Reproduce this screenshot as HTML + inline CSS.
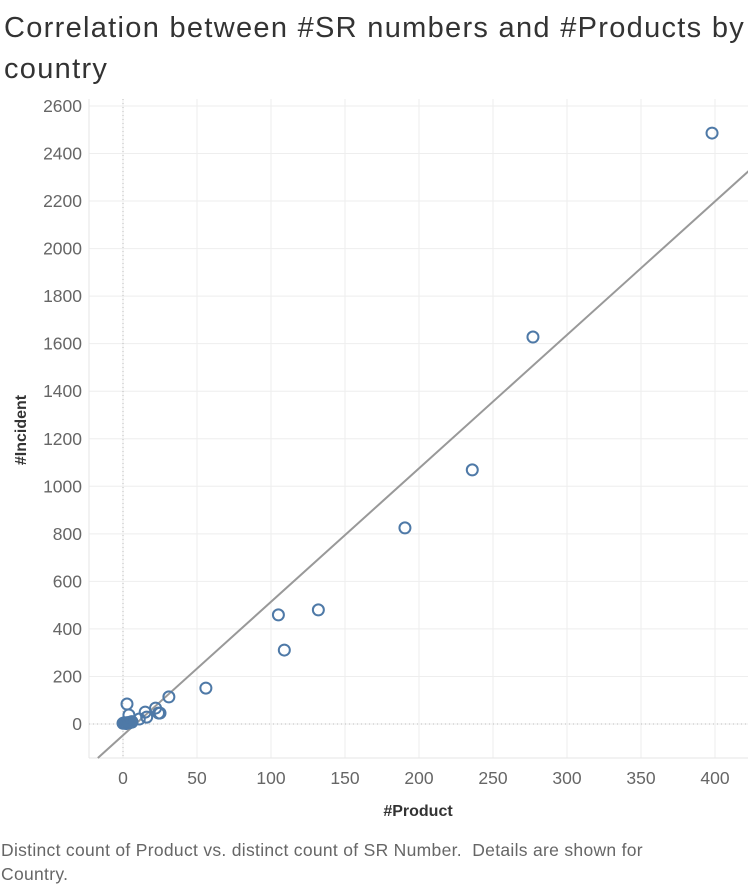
<!DOCTYPE html>
<html><head><meta charset="utf-8"><style>
body{margin:0;width:748px;height:887px;background:#fff;font-family:"Liberation Sans",sans-serif;overflow:hidden;position:relative}
#title{position:absolute;left:4px;top:8px;width:744px;font-size:29px;line-height:41px;color:#333;font-weight:300;letter-spacing:1.3px}
#foot{position:absolute;left:1px;top:838px;width:690px;font-size:17.5px;line-height:24px;color:#666;letter-spacing:0.3px}
svg{position:absolute;left:0;top:0}
</style></head><body>
<div id="title">Correlation between #SR numbers and #Products by country</div>
<svg id="chart" width="748" height="887"></svg>
<div id="foot">Distinct count of Product vs. distinct count of SR Number.&nbsp; Details are shown for Country.</div>
<script>
const xTicks=[0,50,100,150,200,250,300,350,400];
const yTicks=[0,200,400,600,800,1000,1200,1400,1600,1800,2000,2200,2400,2600];
const products=[398,277,236,190.5,105,109,132,56,31,2.7,4,15,16,22,25,24,11,6,0,1,2,3,4,5,6];
const incidents=[2486,1628,1069,825,459,311,480,151,114,84,38,50,29,67,46,46,21,8,3,5,2,6,4,8,10];
const trendSlope=5.615, trendIntercept=-47.5;
const X=v=>123+v*1.48, Y=v=>724-v*0.2377;
const L=89,R=748,T=99,B=758;
const s=document.getElementById('chart');const ns='http://www.w3.org/2000/svg';
function el(t,a){const e=document.createElementNS(ns,t);for(const k in a)e.setAttribute(k,a[k]);s.appendChild(e);return e;}
xTicks.forEach(v=>{const g=el('line',{x1:X(v),x2:X(v),y1:T,y2:B,stroke:'#eee','stroke-width':1});

const t=el('text',{x:X(v),y:784,'text-anchor':'middle','font-size':17.5,fill:'#666'});t.textContent=v;
});
yTicks.forEach(v=>{const g=el('line',{x1:L,x2:R,y1:Y(v),y2:Y(v),stroke:'#eee','stroke-width':1});

const t=el('text',{x:82,y:Y(v)+6,'text-anchor':'end','font-size':17.5,fill:'#666'});t.textContent=v;
});
el('line',{x1:L,x2:L,y1:T,y2:B,stroke:'#e6e6e6'});
el('line',{x1:L,x2:R,y1:B,y2:B,stroke:'#e6e6e6'});
const zx=el('line',{x1:X(0),x2:X(0),y1:T,y2:B,stroke:'#bbb','stroke-dasharray':'1,3'});

const zy=el('line',{x1:L,x2:R,y1:Y(0),y2:Y(0),stroke:'#bbb','stroke-dasharray':'1,3'});

const x0=-17,x1=430;
const tl=el('line',{x1:X(x0),y1:Y(trendSlope*x0+trendIntercept),x2:X(x1),y2:Y(trendSlope*x1+trendIntercept),stroke:'#999','stroke-width':2});

products.forEach((p,i)=>{const c=el('circle',{cx:X(p),cy:Y(incidents[i]),r:5.5,fill:'none',stroke:'#4e79a7','stroke-width':2});
});
const yt=el('text',{x:0,y:0,transform:'translate(26,430) rotate(-90)','text-anchor':'middle','font-size':16,'font-weight':'bold',fill:'#333'});yt.textContent='#Incident';

const xt=el('text',{x:418,y:816,'text-anchor':'middle','font-size':16,'font-weight':'bold',fill:'#333'});xt.textContent='#Product';

</script>
</body></html>
